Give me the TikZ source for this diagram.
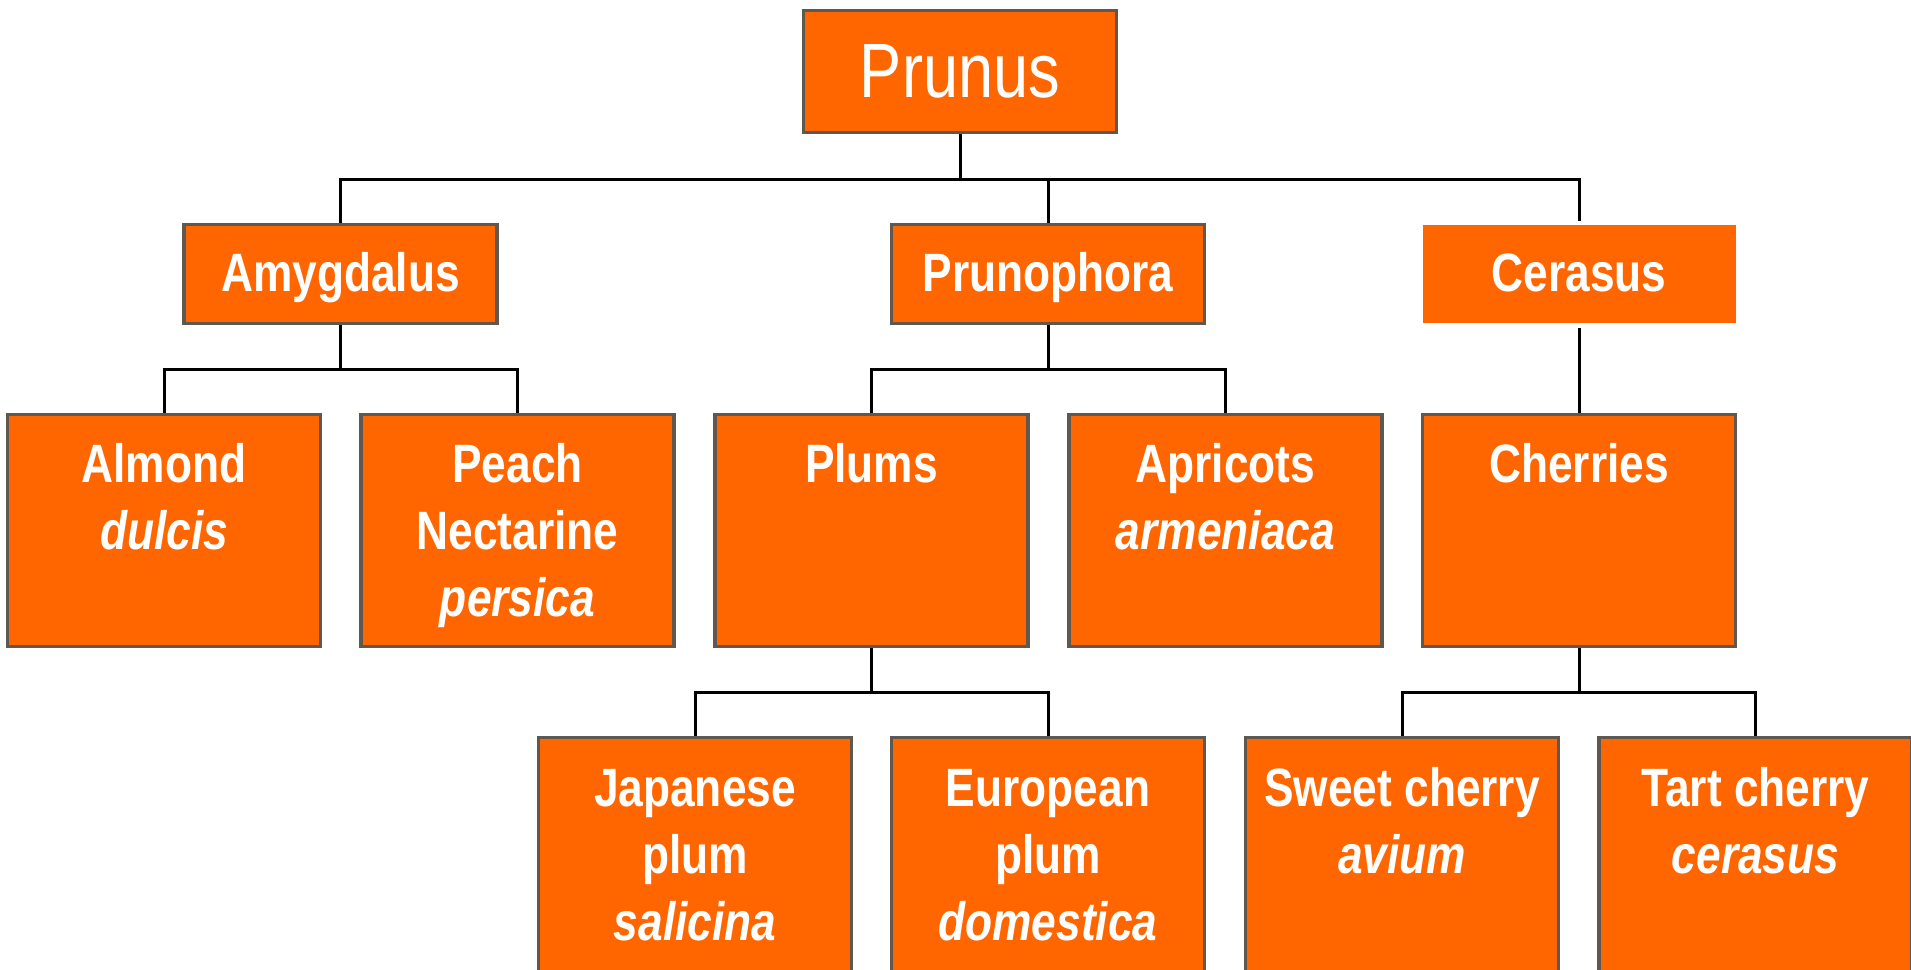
\documentclass[tikz,border=0pt]{standalone}
\usepackage{fontspec}
\setmainfont{Liberation Sans}[FakeStretch=0.82]
\definecolor{orng}{HTML}{FF6600}
\definecolor{bgray}{HTML}{5E5850}
\tikzset{
  boxb/.style={rectangle, draw=bgray, line width=3.2pt, fill=orng, inner sep=0pt, outer sep=0pt, anchor=north, minimum width=313pt},
  boxn/.style={rectangle, fill=orng, inner sep=0pt, outer sep=0pt, anchor=north, minimum width=313pt},
  lbl/.style={text=white, inner sep=0pt, align=center, font=\fontsize{54}{67}\selectfont\bfseries},
  conn/.style={draw=black, line width=3pt},
}
\begin{document}
\begin{tikzpicture}[x=1pt, y=-1pt]
\clip (0,0) rectangle (1911,969);
\fill[white] (0,0) rectangle (1911,969);
% junctions
\coordinate (j0) at (960,179);
\coordinate (j1) at (340.5,369);
\coordinate (j2) at (1048,369);
\coordinate (j3) at (871.5,692);
\coordinate (j4) at (1579,692);
% connectors (drawn first, boxes on top)
\coordinate (prunusS) at (960,132.5);
% boxes
\node[boxb, minimum height=122pt] (prunus) at (960,10.5) {};
\node[boxb, minimum height=99pt] (amyg) at (340.5,224.5) {};
\node[boxb, minimum height=99pt] (proph) at (1048,224.5) {};
\node[boxn, minimum height=98pt] (ceras) at (1579,225) {};
\node[boxb, minimum height=232pt] (almond) at (164,414.5) {};
\node[boxb, minimum height=232pt] (peach) at (517.5,414.5) {};
\node[boxb, minimum height=232pt] (plums) at (871.5,414.5) {};
\node[boxb, minimum height=232pt] (apric) at (1225.5,414.5) {};
\node[boxb, minimum height=232pt] (cherr) at (1579,414.5) {};
\node[boxb, minimum height=300pt] (japan) at (695,737.5) {};
\node[boxb, minimum height=300pt] (europ) at (1048,737.5) {};
\node[boxb, minimum height=300pt] (sweet) at (1402,737.5) {};
\node[boxb, minimum height=300pt] (tart) at (1755.5,737.5) {};
% connectors
\draw[conn] ([yshift=-1.6pt]prunus.south) -- (j0);
\draw[conn] ([yshift=1.6pt]amyg.north) |- (j0);
\draw[conn] ([yshift=1.6pt]proph.north) |- (j0);
\draw[conn] ([yshift=4pt]ceras.north) |- (j0);
\draw[conn] ([yshift=-1.6pt]amyg.south) -- (j1);
\draw[conn] ([yshift=1.6pt]almond.north) |- (j1);
\draw[conn] ([yshift=1.6pt]peach.north) |- (j1);
\draw[conn] ([yshift=-1.6pt]proph.south) -- (j2);
\draw[conn] ([yshift=1.6pt]plums.north) |- (j2);
\draw[conn] ([yshift=1.6pt]apric.north) |- (j2);
\draw[conn] ([yshift=-5pt]ceras.south) -- ([yshift=1.6pt]cherr.north);
\draw[conn] ([yshift=-1.6pt]plums.south) -- (j3);
\draw[conn] ([yshift=1.6pt]japan.north) |- (j3);
\draw[conn] ([yshift=1.6pt]europ.north) |- (j3);
\draw[conn] ([yshift=-1.6pt]cherr.south) -- (j4);
\draw[conn] ([yshift=1.6pt]sweet.north) |- (j4);
\draw[conn] ([yshift=1.6pt]tart.north) |- (j4);
% labels
\node[text=white, inner sep=0pt, anchor=base, font=\fontsize{77}{88}\selectfont] (prunust) at (960,97) {Prunus};
\node[lbl, anchor=base] (amygt) at (340.5,291) {Amygdalus};
\node[lbl, anchor=base] (propht) at (1048,291) {Prunophora};
\node[lbl, anchor=base] (cerast) at (1579,291) {Cerasus};
\node[lbl, anchor=north] (almondt) at (164,432) {\rule{0pt}{50pt}Almond\\\textit{dulcis}};
\node[lbl, anchor=north] (peacht) at (517.5,432) {\rule{0pt}{50pt}Peach\\Nectarine\\\textit{persica}};
\node[lbl, anchor=north] (plumst) at (871.5,432) {\rule{0pt}{50pt}Plums};
\node[lbl, anchor=north] (aprict) at (1225.5,432) {\rule{0pt}{50pt}Apricots\\\textit{armeniaca}};
\node[lbl, anchor=north] (cherrt) at (1579,432) {\rule{0pt}{50pt}Cherries};
\node[lbl, anchor=north] (japant) at (695,756) {\rule{0pt}{50pt}Japanese\\plum\\\textit{salicina}};
\node[lbl, anchor=north] (europt) at (1048,756) {\rule{0pt}{50pt}European\\plum\\\textit{domestica}};
\node[lbl, anchor=north] (sweett) at (1402,756) {\rule{0pt}{50pt}Sweet cherry\\\textit{avium}};
\node[lbl, anchor=north] (tartt) at (1755.5,756) {\rule{0pt}{50pt}Tart cherry\\\textit{cerasus}};
\end{tikzpicture}
\end{document}
